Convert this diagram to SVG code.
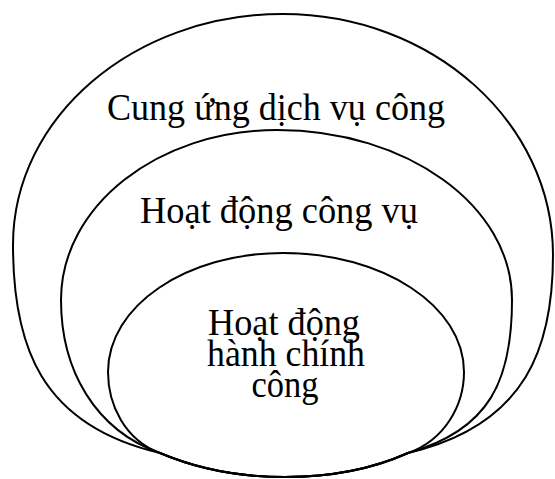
<svg xmlns="http://www.w3.org/2000/svg" width="555" height="479" viewBox="0 0 555 479">
  <style>
    .ring { fill: none; stroke: #000; stroke-width: 2; stroke-linejoin: round; }
    .label { font-family: "Liberation Serif", "Times New Roman", serif; font-size: 37px; fill: #000; text-anchor: middle; }
  </style>
  <rect width="555" height="479" fill="#fff"/>

  <!-- Outer set: public service delivery -->
  <g id="cung-ung-dich-vu-cong">
    <path class="ring" d="M160,453 C40,425 13,345 13,245 C13,117 134,14 283,14 C432,14 553,122 553,255 C553,345 528,425 408,453 C370,470 330,477 285,477 C240,477 200,470 160,453 Z"/>
    <text class="label" x="276" y="120" textLength="338" lengthAdjust="spacingAndGlyphs">Cung ứng dịch vụ công</text>
  </g>

  <!-- Middle set: civil service activity -->
  <g id="hoat-dong-cong-vu">
    <path class="ring" d="M160,453 C95,430 61,370 61,300 C61,206 158,130 277,130 C407,130 512,206 512,300 C512,380 490,430 408,453 C370,470 330,477 285,477 C240,477 200,470 160,453 Z"/>
    <text class="label" x="279" y="223" textLength="278" lengthAdjust="spacingAndGlyphs">Hoạt động công vụ</text>
  </g>

  <!-- Inner set: public administrative activity -->
  <g id="hoat-dong-hanh-chinh-cong">
    <path class="ring" d="M160,453 C125,440 108,405 108,372 C108,306 186,253 283,253 C383,253 464,306 464,372 C464,405 445,440 408,453 C370,470 330,477 285,477 C240,477 200,470 160,453 Z"/>
    <text class="label" x="284" y="335" textLength="152" lengthAdjust="spacingAndGlyphs">Hoạt động</text>
    <text class="label" x="286" y="366" textLength="158" lengthAdjust="spacingAndGlyphs">hành chính</text>
    <text class="label" x="285" y="397" textLength="67" lengthAdjust="spacingAndGlyphs">công</text>
  </g>

  <g id="connectors"/>
</svg>
